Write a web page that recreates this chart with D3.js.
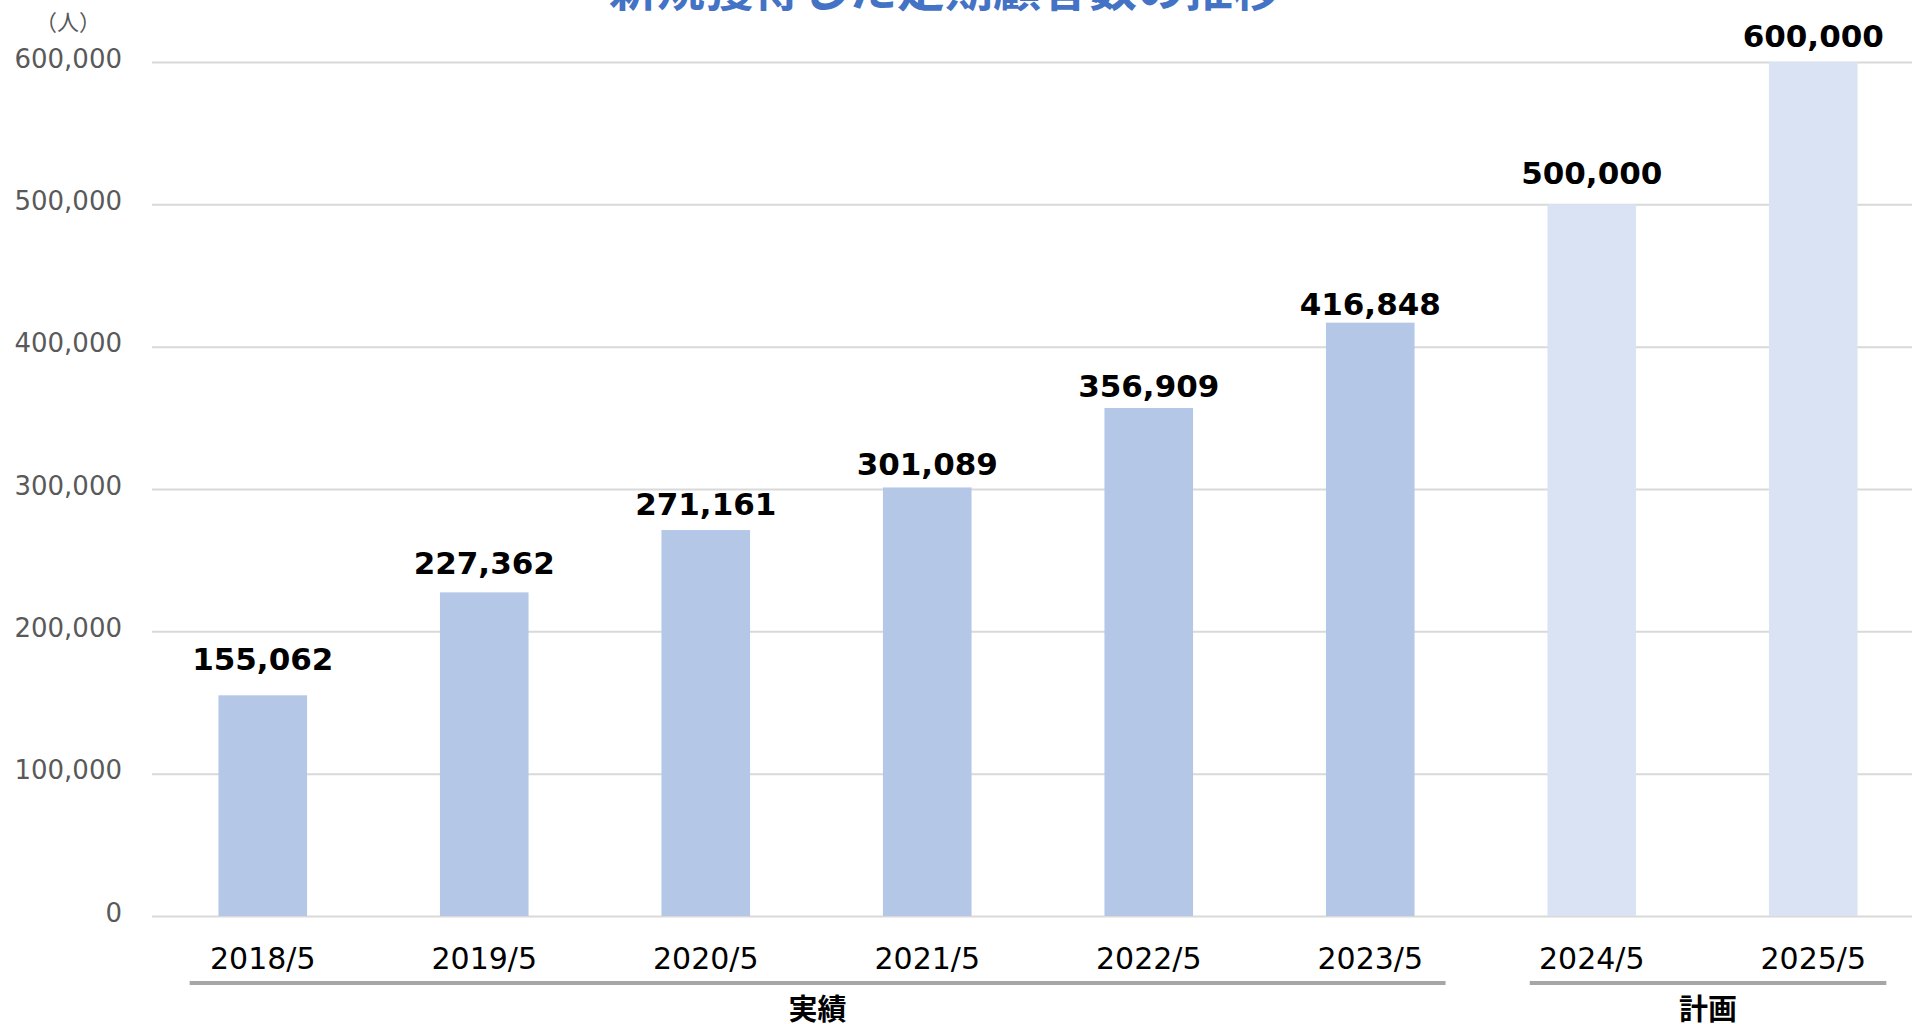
<!DOCTYPE html>
<html>
<head>
<meta charset="utf-8">
<script src="https://cdn.jsdelivr.net/npm/d3@7"></script>
<style>
  html, body { margin: 0; padding: 0; background: #ffffff; overflow: hidden; }
  svg { display: block; }
</style>
</head>
<body>
<svg id="chart" width="1912" height="1024"></svg>
<script>
// New subscription customers acquired per fiscal year (May year-end)
const categories = ["2018/5", "2019/5", "2020/5", "2021/5", "2022/5", "2023/5", "2024/5", "2025/5"];
const customers  = [155062, 227362, 271161, 301089, 356909, 416848, 500000, 600000];
const isPlan     = [false, false, false, false, false, false, true, true];
const yTicks     = [0, 100000, 200000, 300000, 400000, 500000, 600000];
const groups     = [
  { label: "実績", first: "2018/5", last: "2023/5" },
  { label: "計画", first: "2024/5", last: "2025/5" }
];
const titleText = "新規獲得した定期顧客数の推移";
const unitText  = "（人）";

// Hand-placed gap (px) between each value label's baseline and its bar top
const labelGap = [25, 18, 15, 12.5, 11, 7.5, 20, 15];

const W = 1912, H = 1024;
const plot = { left: 152, right: 1924, top: 62, bottom: 916 };

const svg = d3.select("#chart");
const latin = "'DejaVu Sans', Verdana, sans-serif";
const cjk = "'Noto Sans CJK JP', 'Noto Sans', sans-serif";

const x = d3.scaleBand()
  .domain(categories)
  .range([plot.left, plot.right])
  .paddingInner(0.6)
  .paddingOuter(0.3);

const y = d3.scaleLinear()
  .domain([0, 600000])
  .range([plot.bottom, plot.top]);

// Horizontal gridlines + value axis labels
const yAxis = d3.axisLeft(y)
  .tickValues(yTicks)
  .tickFormat(d3.format(","))
  .tickSize(-(W - plot.left))
  .tickPadding(30);

const gy = svg.append("g")
  .attr("transform", `translate(${plot.left},0)`)
  .call(yAxis);
gy.select(".domain").remove();
gy.selectAll(".tick line").attr("stroke", "#d9d9d9").attr("stroke-width", 2);
gy.selectAll(".tick text")
  .attr("fill", "#595959")
  .attr("font-family", latin)
  .attr("font-size", 26)
  .attr("dy", "0.2em");

// Bars
svg.append("g").selectAll("rect")
  .data(categories)
  .join("rect")
  .attr("x", d => x(d))
  .attr("width", x.bandwidth())
  .attr("y", (d, i) => y(customers[i]))
  .attr("height", (d, i) => y(0) - y(customers[i]))
  .attr("fill", (d, i) => isPlan[i] ? "#dae3f3" : "#b4c7e7");

// Value labels
svg.append("g").selectAll("text")
  .data(categories)
  .join("text")
  .attr("x", d => x(d) + x.bandwidth() / 2)
  .attr("y", (d, i) => y(customers[i]) - labelGap[i])
  .attr("text-anchor", "middle")
  .attr("font-family", latin)
  .attr("font-weight", "bold")
  .attr("font-size", 31)
  .attr("fill", "#000")
  .text((d, i) => d3.format(",")(customers[i]));

// Category axis labels
const xAxis = d3.axisBottom(x).tickSize(0).tickPadding(0);
const gx = svg.append("g")
  .attr("transform", `translate(0,${plot.bottom})`)
  .call(xAxis);
gx.select(".domain").remove();
gx.selectAll(".tick text")
  .attr("fill", "#000")
  .attr("font-family", latin)
  .attr("font-size", 30)
  .attr("dy", null)
  .attr("y", 53);

// Group brackets under the category labels
const step = x.step();
const center = c => x(c) + x.bandwidth() / 2;
const bracket = [
  { start: -0.33, end: 0.34 },
  { start: -0.28, end: 0.33 }
];
const gg = svg.append("g");
groups.forEach((g, i) => {
  const x0 = center(g.first) + step * bracket[i].start;
  const x1 = center(g.last) + step * bracket[i].end;
  gg.append("line")
    .attr("x1", x0).attr("x2", x1)
    .attr("y1", 983).attr("y2", 983)
    .attr("stroke", "#a6a6a6").attr("stroke-width", 4);
  gg.append("text")
    .attr("x", (x0 + x1) / 2)
    .attr("y", 1020)
    .attr("text-anchor", "middle")
    .attr("font-family", cjk)
    .attr("font-weight", "bold")
    .attr("font-size", 29)
    .attr("fill", "#000")
    .text(g.label);
});

// Unit label
svg.append("text")
  .attr("x", 68).attr("y", 30)
  .attr("text-anchor", "middle")
  .attr("font-family", cjk)
  .attr("font-size", 22)
  .attr("fill", "#595959")
  .text(unitText);

// Title (partly above the top edge)
svg.append("text")
  .attr("x", 945).attr("y", 6)
  .attr("text-anchor", "middle")
  .attr("font-family", cjk)
  .attr("font-weight", "bold")
  .attr("font-size", 48)
  .attr("fill", "#4472c4")
  .text(titleText);
</script>
</body>
</html>
